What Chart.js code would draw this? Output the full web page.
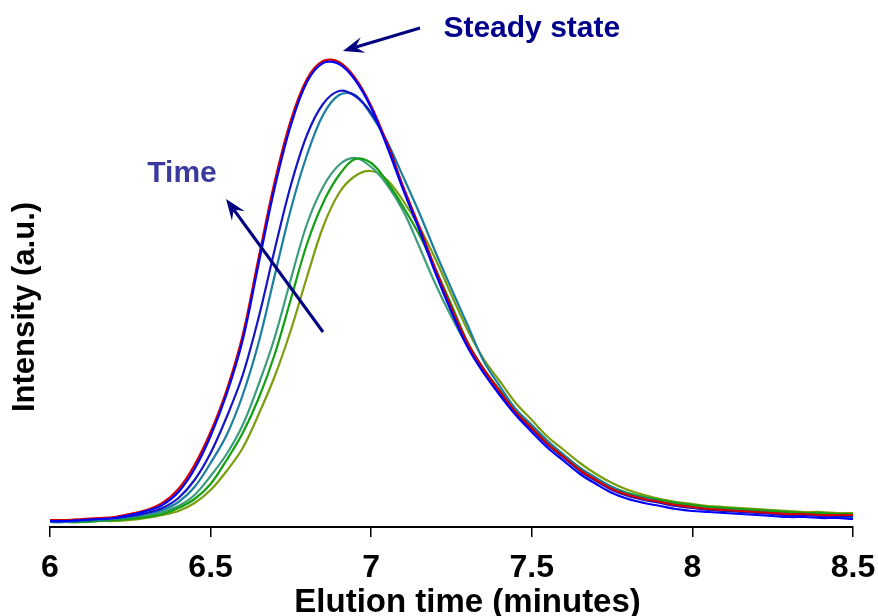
<!DOCTYPE html>
<html>
<head>
<meta charset="utf-8">
<script src="https://cdn.jsdelivr.net/npm/chart.js@4.4.0/dist/chart.umd.min.js"></script>
<style>
    html, body { margin: 0; padding: 0; background: #ffffff; }
    #wrap { width: 878px; height: 616px; position: relative; }
</style>
</head>
<body>
<div id="wrap"><canvas id="elutionCanvas"></canvas></div>
<script>
// Elution profiles (intensity in arbitrary units)
const elutionTime = [
    6.00, 6.05, 6.10, 6.15, 6.20, 6.25, 6.30, 6.35, 6.40, 6.45,
    6.50, 6.55, 6.60, 6.65, 6.70, 6.75, 6.80, 6.85, 6.90, 6.95,
    7.00, 7.05, 7.10, 7.15, 7.20, 7.25, 7.30, 7.35, 7.40, 7.45,
    7.50, 7.55, 7.60, 7.65, 7.70, 7.75, 7.80, 7.85, 7.90, 7.95,
    8.00, 8.05, 8.10, 8.15, 8.20, 8.25, 8.30, 8.35, 8.40, 8.45, 8.50
];

const steadyRed = [
    7, 7, 8, 9, 10, 13, 17, 24, 38, 62,
    95, 137, 192, 270, 346, 407, 448, 466, 465, 449,
    421, 383, 340, 300, 258, 219, 184, 158, 136, 115,
    99, 83, 70, 57, 47, 38, 32, 28, 25, 22,
    20, 18, 17, 16, 15, 14, 13, 13, 12, 12, 12
];
const steadyBlue = [
    6, 6, 7, 8, 9, 12, 16, 22, 35, 58,
    91, 133, 187, 264, 340, 402, 445, 464, 463, 447,
    419, 380, 337, 297, 254, 215, 180, 154, 132, 112,
    95, 79, 66, 53, 43, 34, 28, 24, 21, 18,
    16, 15, 14, 13, 12, 11, 10, 10, 9, 9, 8
];
const darkBlue = [
    6, 6, 7, 8, 9, 11, 14, 19, 29, 47,
    74, 110, 152, 210, 278, 342, 392, 423, 436, 431,
    414, 384, 339, 299, 257, 218, 183, 157, 135, 114,
    98, 82, 69, 56, 46, 37, 31, 27, 24, 21,
    19, 17, 16, 15, 14, 13, 12, 12, 11, 11, 11
];
const teal = [
    5, 5, 6, 7, 8, 10, 13, 17, 25, 40,
    64, 92, 132, 185, 252, 318, 372, 412, 432, 432,
    412, 385, 350, 314, 275, 238, 202, 166, 141, 118,
    102, 86, 72, 59, 49, 40, 33, 29, 25, 22,
    20, 18, 17, 16, 15, 14, 13, 12, 11, 10, 10
];
const seafoam = [
    5, 5, 6, 6, 7, 9, 11, 15, 21, 32,
    51, 73, 102, 143, 190, 248, 303, 340, 362, 369,
    360, 342, 316, 280, 243, 210, 181, 158, 136, 114,
    99, 84, 71, 58, 48, 39, 33, 29, 26, 23,
    21, 19, 18, 17, 16, 15, 14, 14, 13, 13, 13
];
const green = [
    5, 5, 5, 6, 7, 8, 10, 13, 19, 28,
    43, 67, 94, 129, 173, 228, 283, 324, 352, 368,
    364, 345, 320, 292, 258, 222, 185, 158, 137, 117,
    101, 85, 72, 59, 49, 40, 34, 30, 27, 24,
    22, 20, 19, 18, 17, 16, 15, 14, 14, 13, 13
];
const yellowGreen = [
    5, 5, 5, 6, 6, 7, 9, 12, 16, 24,
    37, 56, 79, 113, 151, 197, 250, 300, 334, 351,
    356, 347, 326, 300, 268, 232, 197, 168, 146, 124,
    107, 90, 77, 64, 53, 44, 37, 32, 28, 25,
    23, 21, 20, 19, 18, 17, 16, 15, 15, 14, 14
];

const xTicks = [6, 6.5, 7, 7.5, 8, 8.5];

// annotation anchors, in data units
const steadyLabel = { x: 7.50, y: 490, text: 'Steady state' };
const steadyArrow = { from: { x: 7.152, y: 499 }, to: { x: 6.912, y: 476 } };
const timeLabel = { x: 6.411, y: 345, text: 'Time' };
const timeArrow = { from: { x: 6.850, y: 195 }, to: { x: 6.548, y: 328 } };
const xTitle = { x: 7.30, text: 'Elution time (minutes)' };
const yTitle = { y: 220, text: 'Intensity (a.u.)' };

const FONT = '"Liberation Sans", Arial, sans-serif';

function series(values, color) {
    return {
        data: elutionTime.map((t, i) => ({ x: t, y: values[i] })),
        borderColor: color,
        borderWidth: 2.2,
        pointRadius: 0,
        tension: 0.35,
        fill: false
    };
}

function drawArrow(ctx, x1, y1, x2, y2, color) {
    const ang = Math.atan2(y2 - y1, x2 - x1);
    const len = 21, half = 8, notch = 13;
    ctx.save();
    ctx.strokeStyle = color;
    ctx.fillStyle = color;
    ctx.lineWidth = 3;
    ctx.beginPath();
    ctx.moveTo(x1, y1);
    ctx.lineTo(x2 - Math.cos(ang) * notch, y2 - Math.sin(ang) * notch);
    ctx.stroke();
    ctx.translate(x2, y2);
    ctx.rotate(ang);
    ctx.beginPath();
    ctx.moveTo(0, 0);
    ctx.lineTo(-len, -half);
    ctx.lineTo(-notch, 0);
    ctx.lineTo(-len, half);
    ctx.closePath();
    ctx.fill();
    ctx.restore();
}

const annotations = {
    id: 'annotations',
    afterDatasetsDraw(chart) {
        const ctx = chart.ctx;
        const xs = chart.scales.x, ys = chart.scales.y;
        const px = v => xs.getPixelForValue(v);
        const py = v => ys.getPixelForValue(v);

        ctx.save();
        ctx.font = 'bold 30px ' + FONT;
        ctx.textAlign = 'center';
        ctx.textBaseline = 'alphabetic';
        ctx.fillStyle = '#00008b';
        ctx.fillText(steadyLabel.text, px(steadyLabel.x), py(steadyLabel.y));
        ctx.fillStyle = '#3a3a9c';
        ctx.fillText(timeLabel.text, px(timeLabel.x), py(timeLabel.y));
        ctx.restore();

        drawArrow(ctx, px(steadyArrow.from.x), py(steadyArrow.from.y),
            px(steadyArrow.to.x), py(steadyArrow.to.y), '#000080');
        drawArrow(ctx, px(timeArrow.from.x), py(timeArrow.from.y),
            px(timeArrow.to.x), py(timeArrow.to.y), '#000080');

        // axis titles
        ctx.save();
        ctx.fillStyle = '#000';
        ctx.textAlign = 'center';
        ctx.textBaseline = 'middle';
        ctx.font = 'bold 33px ' + FONT;
        ctx.fillText(xTitle.text, px(xTitle.x), chart.height - 13);
        ctx.translate(25, py(yTitle.y));
        ctx.rotate(-Math.PI / 2);
        ctx.font = 'bold 31px ' + FONT;
        ctx.fillText(yTitle.text, 0, 0);
        ctx.restore();
    }
};

new Chart(document.getElementById('elutionCanvas'), {
    type: 'line',
    data: {
        datasets: [
            series(steadyBlue, '#0000ff'),
            series(steadyRed, '#d40000'),
            series(darkBlue, '#1515c8'),
            series(teal, '#1a7ea0'),
            series(green, '#12a012'),
            series(seafoam, '#3c9c7c'),
            series(yellowGreen, '#7a9e0e')
        ]
    },
    options: {
        responsive: true,
        maintainAspectRatio: false,
        animation: false,
        devicePixelRatio: 1,
        layout: { padding: { top: 10, left: 50, right: 25, bottom: 0 } },
        plugins: {
            legend: { display: false },
            tooltip: { enabled: false }
        },
        scales: {
            x: {
                type: 'linear',
                min: 6,
                max: 8.5,
                afterBuildTicks: scale => {
                    scale.ticks = xTicks.map(v => ({ value: v }));
                },
                afterFit: scale => {
                    scale.height = 89;
                    scale.paddingLeft = 0;
                    scale.paddingRight = 0;
                },
                ticks: {
                    color: '#000',
                    padding: 12,
                    font: { family: FONT, size: 32, weight: 'bold' },
                    callback: value => String(value)
                },
                grid: {
                    drawOnChartArea: false,
                    drawTicks: true,
                    tickLength: 10,
                    color: '#000',
                    lineWidth: 1.5
                },
                border: { display: true, color: '#000', width: 2 }
            },
            y: {
                display: false,
                min: 0,
                max: 517
            }
        }
    },
    plugins: [annotations]
});
</script>
</body>
</html>
